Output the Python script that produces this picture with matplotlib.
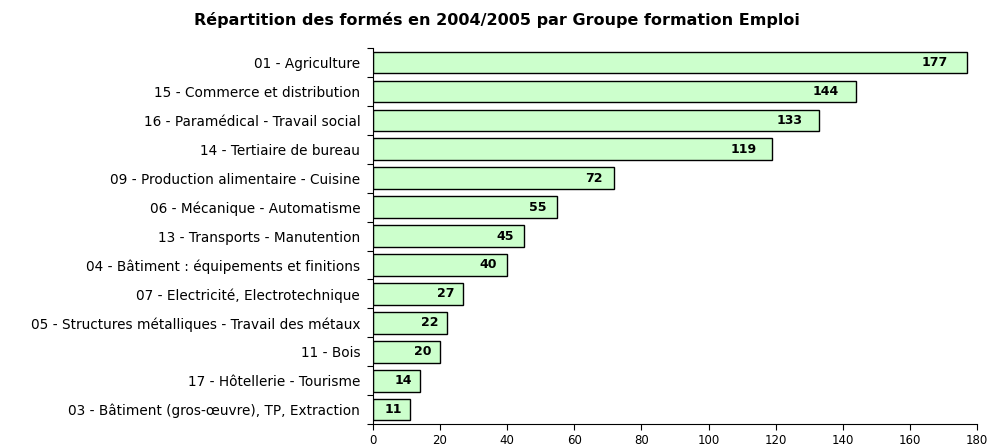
import matplotlib
matplotlib.use("Agg")
import matplotlib.pyplot as plt

categories = [
    "01 - Agriculture",
    "15 - Commerce et distribution",
    "16 - Paramédical - Travail social",
    "14 - Tertiaire de bureau",
    "09 - Production alimentaire - Cuisine",
    "06 - Mécanique - Automatisme",
    "13 - Transports - Manutention",
    "04 - Bâtiment : équipements et finitions",
    "07 - Electricité, Electrotechnique",
    "05 - Structures métalliques - Travail des métaux",
    "11 - Bois",
    "17 - Hôtellerie - Tourisme",
    "03 - Bâtiment (gros-œuvre), TP, Extraction",
]
values = [177, 144, 133, 119, 72, 55, 45, 40, 27, 22, 20, 14, 11]
xticks = [0, 20, 40, 60, 80, 100, 120, 140, 160, 180]
title = "Répartition des formés en 2004/2005 par Groupe formation Emploi"

plt.rcParams['font.family'] = ['DejaVu Sans']

fig = plt.figure(figsize=(9.94, 4.45), dpi=100)
ax = fig.add_axes([0.375, 0.047, 0.608, 0.845])

n = len(categories)
ys = list(range(n))
ax.barh(ys, values, height=0.75, color="#CCFFCC", edgecolor="black", linewidth=1.0)
ax.set_ylim(n - 0.5, -0.5)
ax.set_xlim(0, 180)

ax.set_yticks(ys)
ax.set_yticklabels(categories, fontsize=9.8)
ax.tick_params(axis='y', length=0, pad=9)
ax.set_yticks([i - 0.5 for i in range(n + 1)], minor=True)
ax.tick_params(axis='y', which='minor', length=4, width=0.8, direction='out')

ax.set_xticks(xticks)
ax.set_xticklabels([str(t) for t in xticks], fontsize=8.5)
ax.tick_params(axis='x', length=4, width=0.8, direction='out', pad=3)

for s in ["top", "right"]:
    ax.spines[s].set_visible(False)
for s in ["left", "bottom"]:
    ax.spines[s].set_linewidth(0.8)

for y, v in zip(ys, values):
    off = -(5 + 9 * v / 177)
    ax.annotate(str(v), xy=(v, y), xytext=(off, 0), textcoords="offset points",
                ha="right", va="center", fontsize=9, fontweight="bold")

fig.text(0.5, 0.955, title, ha="center", va="center",
         fontsize=11.5, fontweight="bold")

fig.savefig("out.png", dpi=100)
